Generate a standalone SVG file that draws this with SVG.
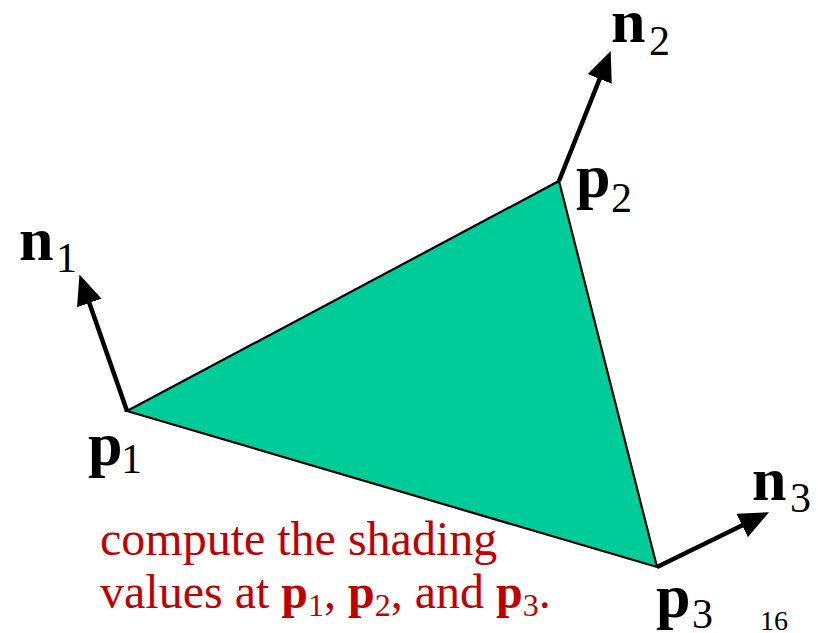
<svg xmlns="http://www.w3.org/2000/svg" width="818" height="633" viewBox="0 0 818 633">
<style>
.lbl{font-family:"Liberation Serif","Times New Roman",serif;font-weight:bold;font-size:62px;fill:#000}
.sub{font-family:"Liberation Serif","Times New Roman",serif;font-size:42px;fill:#000}
.note{font-family:"Liberation Serif","Times New Roman",serif;font-size:48px;fill:#c00000}
.arrow{stroke:#000;stroke-width:4.5;fill:none;marker-end:url(#ah)}
</style>
<defs>
<marker id="ah" markerUnits="userSpaceOnUse" markerWidth="30" markerHeight="26" viewBox="0 0 30 26" refX="1" refY="13" orient="auto">
<path d="M0,0 L30,13 L0,26 z" fill="#000"/>
</marker>
</defs>
<g id="triangle">
<polygon points="127,411 559,181 657,567" fill="#00cc99" stroke="#000" stroke-width="2.2" stroke-linejoin="miter"/>
</g>
<g id="connectors">
<line class="arrow" x1="127" y1="411" x2="89" y2="302"/>
<line class="arrow" x1="559" y1="181" x2="600" y2="78"/>
<line class="arrow" x1="657" y1="567" x2="743" y2="525"/>
</g>
<g id="n1"><text class="lbl" x="19" y="260">n</text><text class="sub" x="56" y="272">1</text></g>
<g id="p1"><text class="lbl" x="88" y="465">p</text><text class="sub" x="121" y="473">1</text></g>
<g id="n2"><text class="lbl" x="611" y="42">n</text><text class="sub" x="649" y="55">2</text></g>
<g id="p2"><text class="lbl" x="576" y="197">p</text><text class="sub" x="611" y="212">2</text></g>
<g id="n3"><text class="lbl" x="752" y="500">n</text><text class="sub" x="790" y="512">3</text></g>
<g id="p3"><text class="lbl" x="656" y="617">p</text><text class="sub" x="692" y="628">3</text></g>
<g id="note">
<text class="note" x="100" y="555">compute the shading</text>
<text class="note" x="100" y="608">values at <tspan font-weight="bold">p</tspan><tspan font-size="32" dy="8">1</tspan><tspan dy="-8">, </tspan><tspan font-weight="bold">p</tspan><tspan font-size="32" dy="8">2</tspan><tspan dy="-8">, and </tspan><tspan font-weight="bold">p</tspan><tspan font-size="32" dy="8">3</tspan><tspan dy="-8">.</tspan></text>
</g>
<g id="page"><text x="760" y="630" font-family="Liberation Serif, Times New Roman, serif" font-size="28" fill="#000">16</text></g>
</svg>
